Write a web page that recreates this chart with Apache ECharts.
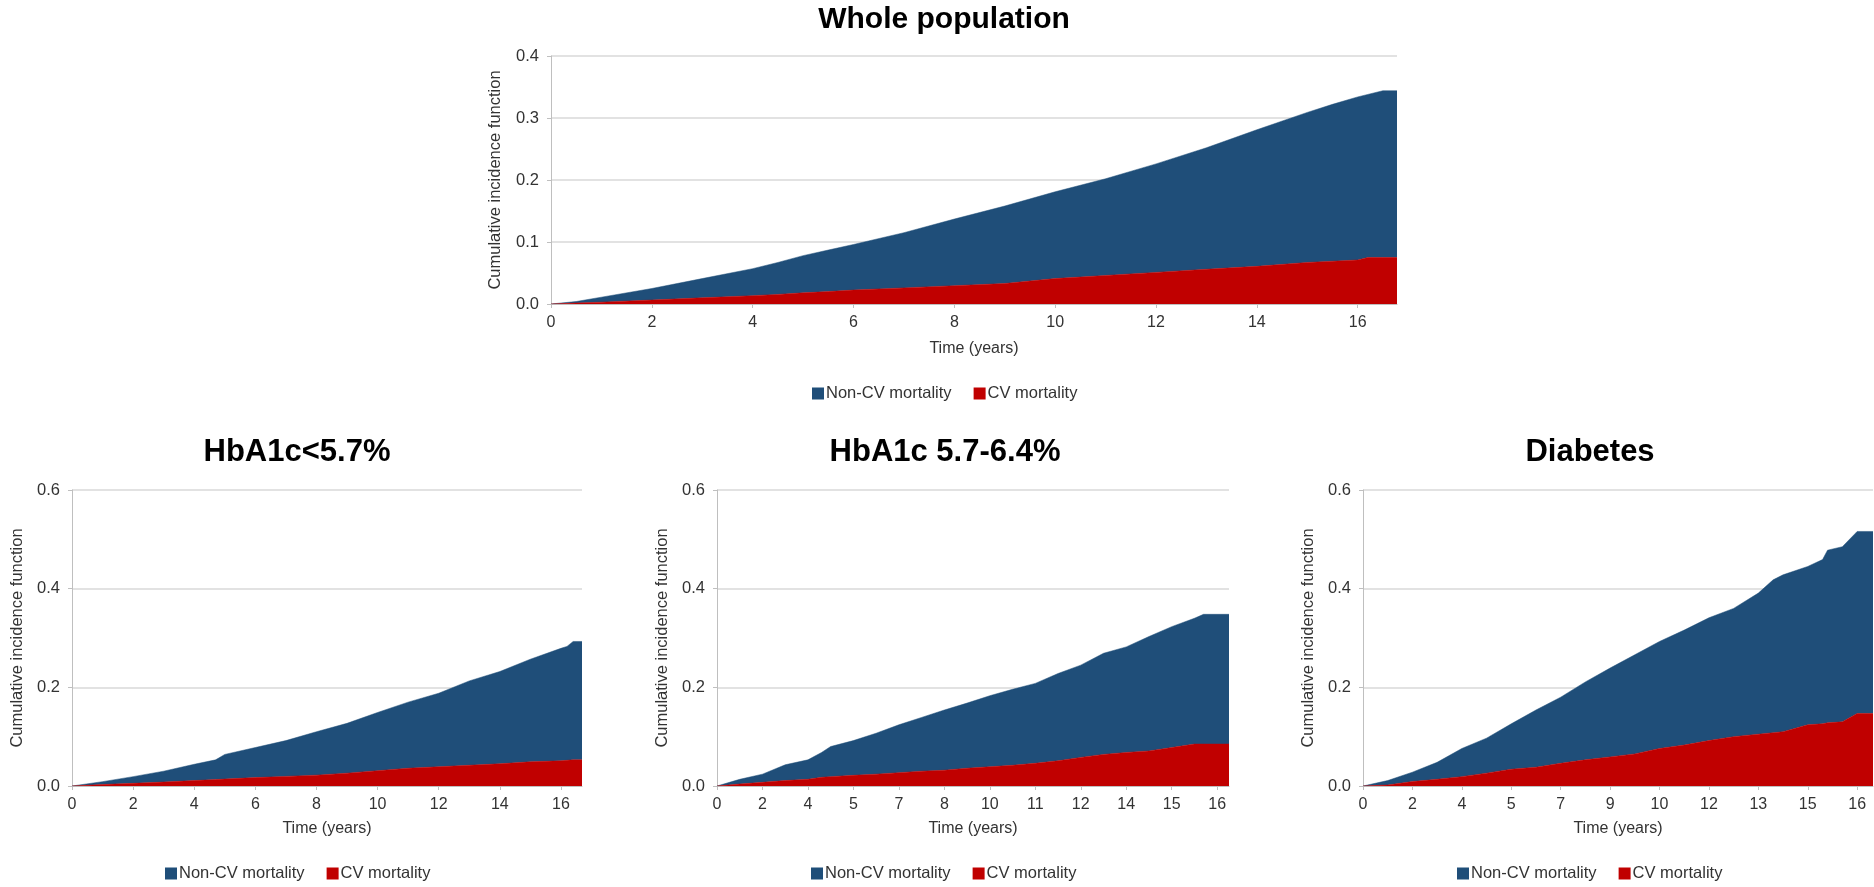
<!DOCTYPE html>
<html>
<head>
<meta charset="utf-8">
<script src="https://cdn.jsdelivr.net/npm/echarts@6/dist/echarts.min.js"></script>
<style>
html,body{margin:0;padding:0;background:#fff;}
#chart{width:1874px;height:887px;}
</style>
</head>
<body>
<div id="chart"></div>
<script>
// ---------- Data ----------
const seriesNames = ['Non-CV mortality', 'CV mortality'];
const panelTitles = ['Whole population', 'HbA1c<5.7%', 'HbA1c 5.7-6.4%', 'Diabetes'];

// Whole population (x = years)
const wholeTime  = [0, 0.5, 1, 2, 3, 4, 4.5, 5, 5.5, 6, 7, 8, 9, 10, 11, 12, 13, 14, 15, 15.5, 16, 16.2, 16.5, 16.78];
const wholeCV    = [0, 0.0015, 0.003, 0.0064, 0.010, 0.0134, 0.0155, 0.018, 0.020, 0.0225, 0.026, 0.0295, 0.033, 0.041, 0.046, 0.051, 0.056, 0.0607, 0.067, 0.069, 0.071, 0.075, 0.075, 0.075];
const wholeNonCV = [0, 0.0025, 0.008, 0.0186, 0.031, 0.0436, 0.0515, 0.060, 0.067, 0.0735, 0.089, 0.1075, 0.125, 0.140, 0.156, 0.175, 0.196, 0.2203, 0.242, 0.253, 0.263, 0.263, 0.269, 0.269];

// HbA1c<5.7% (x = years)
const lowTime  = [0, 1, 2, 3, 4, 4.7, 5, 6, 7, 8, 9, 10, 11, 12, 13, 14, 15, 16, 16.2, 16.4, 16.69];
const lowCV    = [0, 0.003, 0.0054, 0.008, 0.011, 0.013, 0.014, 0.017, 0.0195, 0.022, 0.026, 0.031, 0.036, 0.039, 0.042, 0.045, 0.049, 0.051, 0.052, 0.053, 0.053];
const lowNonCV = [0, 0.0058, 0.0136, 0.022, 0.033, 0.040, 0.050, 0.061, 0.0725, 0.088, 0.101, 0.118, 0.134, 0.149, 0.171, 0.187, 0.208, 0.228, 0.231, 0.240, 0.240];

// HbA1c 5.7-6.4% (x = position along the category-style time axis)
const midTicks = ['0', '2', '4', '5', '7', '8', '10', '11', '12', '14', '15', '16'];
const midPos   = [0, 0.5, 1, 1.5, 2, 2.3, 2.5, 3, 3.5, 4, 4.5, 5, 5.5, 6, 6.5, 7, 7.5, 8, 8.5, 9, 9.5, 10, 10.5, 10.7, 11.26];
const midCV    = [0, 0.004, 0.0074, 0.011, 0.0135, 0.0176, 0.019, 0.0216, 0.024, 0.027, 0.030, 0.032, 0.036, 0.039, 0.042, 0.046, 0.051, 0.058, 0.064, 0.068, 0.071, 0.078, 0.085, 0.085, 0.085];
const midNonCV = [0, 0.0095, 0.0166, 0.032, 0.0395, 0.0504, 0.061, 0.0704, 0.083, 0.097, 0.109, 0.122, 0.132, 0.144, 0.154, 0.162, 0.177, 0.187, 0.205, 0.214, 0.232, 0.245, 0.255, 0.263, 0.263];

// Diabetes (x = position along the category-style time axis)
const diaTicks = ['0', '2', '4', '5', '7', '9', '10', '12', '13', '15', '16'];
const diaPos   = [0, 0.5, 1, 1.5, 2, 2.5, 3, 3.5, 4, 4.5, 5, 5.5, 6, 6.5, 7, 7.5, 8, 8.3, 8.5, 9, 9.3, 9.4, 9.7, 10, 10.32];
const diaCV    = [0, 0.002, 0.009, 0.0135, 0.019, 0.026, 0.034, 0.038, 0.046, 0.053, 0.059, 0.065, 0.076, 0.083, 0.092, 0.100, 0.105, 0.108, 0.110, 0.124, 0.126, 0.128, 0.130, 0.147, 0.147];
const diaNonCV = [0, 0.009, 0.019, 0.0345, 0.057, 0.071, 0.092, 0.116, 0.134, 0.158, 0.180, 0.201, 0.217, 0.233, 0.249, 0.260, 0.286, 0.310, 0.318, 0.321, 0.333, 0.350, 0.355, 0.369, 0.369];

// ---------- Styling ----------
const FONT = "'Liberation Sans', Arial, Helvetica, sans-serif";
const BLUE = '#1F4E79';
const RED = '#C00000';
const TXT = '#333333';
const AXIS = '#BFBFBF';
const GRIDC = '#D9D9D9';

const panels = [
  { time: wholeTime, cv: wholeCV, noncv: wholeNonCV, ticks: null, xmax: 16.78, xint: 2, ymax: 0.4, yint: 0.1,
    grid: { left: 551, top: 56, width: 846, height: 248 },
    title: { x: 944, y: 5, size: 30 }, legend: { x: 812, y: 385 }, yGap: 47, xGap: 37 },
  { time: lowTime, cv: lowCV, noncv: lowNonCV, ticks: null, xmax: 16.69, xint: 2, ymax: 0.6, yint: 0.2,
    grid: { left: 72, top: 490, width: 510, height: 296 },
    title: { x: 297, y: 437, size: 31 }, legend: { x: 165, y: 865 }, yGap: 46, xGap: 35 },
  { time: midPos, cv: midCV, noncv: midNonCV, ticks: midTicks, xmax: 11.26, xint: 1, ymax: 0.6, yint: 0.2,
    grid: { left: 717, top: 490, width: 512, height: 296 },
    title: { x: 945, y: 437, size: 31 }, legend: { x: 811, y: 865 }, yGap: 46, xGap: 35 },
  { time: diaPos, cv: diaCV, noncv: diaNonCV, ticks: diaTicks, xmax: 10.32, xint: 1, ymax: 0.6, yint: 0.2,
    grid: { left: 1363, top: 490, width: 510, height: 296 },
    title: { x: 1590, y: 437, size: 31 }, legend: { x: 1457, y: 865 }, yGap: 46, xGap: 35 }
];

const option = {
  animation: false,
  backgroundColor: '#ffffff',
  textStyle: { fontFamily: FONT },
  title: [], legend: [], grid: [], xAxis: [], yAxis: [], series: []
};

function isInt(v) { return Math.abs(v - Math.round(v)) < 1e-6; }

panels.forEach((p, i) => {
  option.title.push({
    text: panelTitles[i], left: p.title.x, top: p.title.y, textAlign: 'center', padding: 0,
    textStyle: { fontFamily: FONT, fontSize: p.title.size, fontWeight: 'bold', color: '#000' }
  });
  option.legend.push({
    data: seriesNames, left: p.legend.x, top: p.legend.y, padding: 0, icon: 'rect',
    itemWidth: 12, itemHeight: 12, itemGap: 22, selectedMode: false,
    textStyle: { fontFamily: FONT, fontSize: 16.5, color: TXT, padding: [0, 0, 0, -3] }
  });
  option.grid.push(Object.assign({ containLabel: false }, p.grid));
  const ticks = p.ticks;
  option.xAxis.push({
    type: 'value', gridIndex: i, min: 0, max: p.xmax, interval: p.xint,
    name: 'Time (years)', nameLocation: 'middle', nameGap: p.xGap,
    nameTextStyle: { fontFamily: FONT, fontSize: 16, color: TXT },
    axisLine: { show: true, lineStyle: { color: AXIS, width: 1 } },
    axisTick: { show: true, length: 4, lineStyle: { color: AXIS } },
    splitLine: { show: false },
    axisLabel: {
      fontFamily: FONT, fontSize: 16, color: TXT, margin: 11, showMaxLabel: false,
      formatter: function (v) {
        if (!isInt(v)) return '';
        const k = Math.round(v);
        if (ticks) return ticks[k] !== undefined ? ticks[k] : '';
        return String(k);
      }
    }
  });
  option.yAxis.push({
    type: 'value', gridIndex: i, min: 0, max: p.ymax, interval: p.yint,
    name: 'Cumulative incidence function', nameLocation: 'middle', nameGap: p.yGap,
    nameTextStyle: { fontFamily: FONT, fontSize: 16.5, color: TXT },
    axisLine: { show: true, lineStyle: { color: AXIS, width: 1 } },
    axisTick: { show: true, length: 4, lineStyle: { color: AXIS } },
    splitLine: { show: true, lineStyle: { color: GRIDC, width: 1.5 } },
    axisLabel: { fontFamily: FONT, fontSize: 16.5, color: TXT, margin: 12,
      formatter: function (v) { return v.toFixed(1); } }
  });
  const stackId = 'stack' + i;
  // data as [value, time] with encode so that the stacked dimension is the y value
  option.series.push({
    name: seriesNames[1], type: 'line', xAxisIndex: i, yAxisIndex: i, stack: stackId,
    data: p.time.map((t, j) => [p.cv[j], t]),
    encode: { x: 1, y: 0 },
    showSymbol: false, symbol: 'none', color: RED,
    lineStyle: { width: 0.5, color: RED }, areaStyle: { color: RED, opacity: 1 }, z: 3
  });
  option.series.push({
    name: seriesNames[0], type: 'line', xAxisIndex: i, yAxisIndex: i, stack: stackId,
    data: p.time.map((t, j) => [p.noncv[j], t]),
    encode: { x: 1, y: 0 },
    showSymbol: false, symbol: 'none', color: BLUE,
    lineStyle: { width: 0.5, color: BLUE }, areaStyle: { color: BLUE, opacity: 1 }, z: 2
  });
});

const chart = echarts.init(document.getElementById('chart'), null, { renderer: 'canvas' });
chart.setOption(option);
</script>
</body>
</html>
